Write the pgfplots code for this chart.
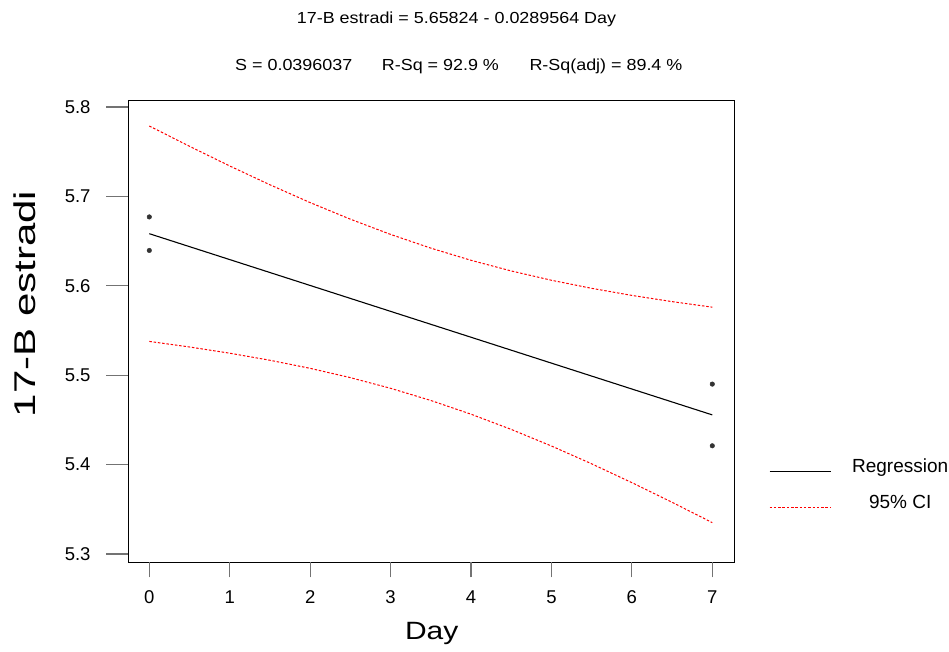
\documentclass[border=0pt]{standalone}
\usepackage{pgfplots}
\pgfplotsset{compat=1.18}
\usepackage{fontspec}
\usepackage{graphicx}
\setmainfont{Liberation Sans}
\begin{document}
\begin{tikzpicture}
\useasboundingbox (0,0) rectangle (949bp,652bp);
\begin{axis}[
  at={(128bp,90bp)}, anchor=south west,
  scale only axis, width=606bp, height=462bp,
  xmin=-0.265, xmax=7.27, ymin=5.291, ymax=5.8078,
  xtick=\empty,
  extra x ticks={0,1,2,3,4,5,6,7},
  extra x tick style={major tick length=15.5bp, tick align=outside, xtick pos=bottom,
     xticklabel style={inner sep=0pt, yshift=-13.2bp, font=\fontsize{18.5bp}{20bp}\selectfont},
     tick style={color=black!55, line width=1.2bp}},
  ytick={5.3,5.4,5.5,5.6,5.7,5.8},
  major tick length=22bp,
  /pgf/number format/assume math mode=true,
  yticklabel style={/pgf/number format/fixed, /pgf/number format/precision=1, /pgf/number format/fixed zerofill, inner sep=0pt, xshift=-15.3bp},
  ticklabel style={font=\fontsize{18.5bp}{20bp}\selectfont},
  tick align=outside,
  xtick pos=bottom, ytick pos=left,
  tick style={color=black!55, line width=1.2bp},
  axis line style={line width=0.9bp},
  legend style={at={(1.0578,0.1645)}, anchor=west, draw=none, fill=none, inner sep=0pt, outer sep=0pt,
    font=\fontsize{19bp}{21bp}\selectfont, row sep=18bp,
    nodes={inner sep=0pt, text height=14bp, text depth=4bp}},
  legend cell align=center,
  legend image code/.code={\draw[#1] (0bp,-3.8bp) -- (61bp,-3.8bp);},
  /tikz/every odd column/.append style={column sep=21bp},
]
\addplot[black, line width=1.1bp] coordinates {(0,5.65824) (7,5.45555)};
\addlegendentry{Regression}
\addplot[red, line width=1bp, dash pattern=on 2.5bp off 1.8bp] coordinates {
(0,5.77874)(0.5,5.75599)(1,5.73399)(1.5,5.71295)(2,5.69303)(2.5,5.67447)(3,5.65744)(3.5,5.64210)
(4,5.62849)(4.5,5.61656)(5,5.60616)(5.5,5.59712)(6,5.58921)(6.5,5.58226)(7,5.57605)};
\addlegendentry{95\% CI}
\addplot[red, line width=1bp, dash pattern=on 2.5bp off 1.8bp, forget plot] coordinates {
(0,5.53774)(0.5,5.53153)(1,5.52457)(1.5,5.51667)(2,5.50763)(2.5,5.49723)(3,5.48530)(3.5,5.47168)
(4,5.45635)(4.5,5.43932)(5,5.42076)(5.5,5.40084)(6,5.37979)(6.5,5.35780)(7,5.33505)};
\addplot[only marks, mark=*, mark size=2.3bp, black!80, forget plot] coordinates {(0,5.677)(0,5.6395)(7,5.490)(7,5.421)};
\end{axis}
\node[anchor=base, inner sep=0pt, font=\fontsize{16bp}{18bp}\selectfont] at (456.5bp,628bp) {\scalebox{1.12}[1]{17-B estradi = 5.65824 - 0.0289564 Day}};
\node[anchor=base west, inner sep=0pt, font=\fontsize{16bp}{18bp}\selectfont] at (235bp,581bp) {\scalebox{1.12}[1]{S = 0.0396037}};
\node[anchor=base west, inner sep=0pt, font=\fontsize{16bp}{18bp}\selectfont] at (381.7bp,581bp) {\scalebox{1.12}[1]{R-Sq = 92.9 \%}};
\node[anchor=base west, inner sep=0pt, font=\fontsize{16bp}{18bp}\selectfont] at (529.3bp,581bp) {\scalebox{1.12}[1]{R-Sq(adj) = 89.4 \%}};
\node[anchor=base, inner sep=0pt, font=\fontsize{25bp}{28bp}\selectfont] at (431.7bp,12.7bp) {\scalebox{1.2}[1]{Day}};
\node[anchor=base, rotate=90, inner sep=0pt, font=\fontsize{30bp}{32bp}\selectfont] at (35bp,348bp) {\scalebox{1.4}[1]{17-B estradi}};
\end{tikzpicture}
\end{document}
